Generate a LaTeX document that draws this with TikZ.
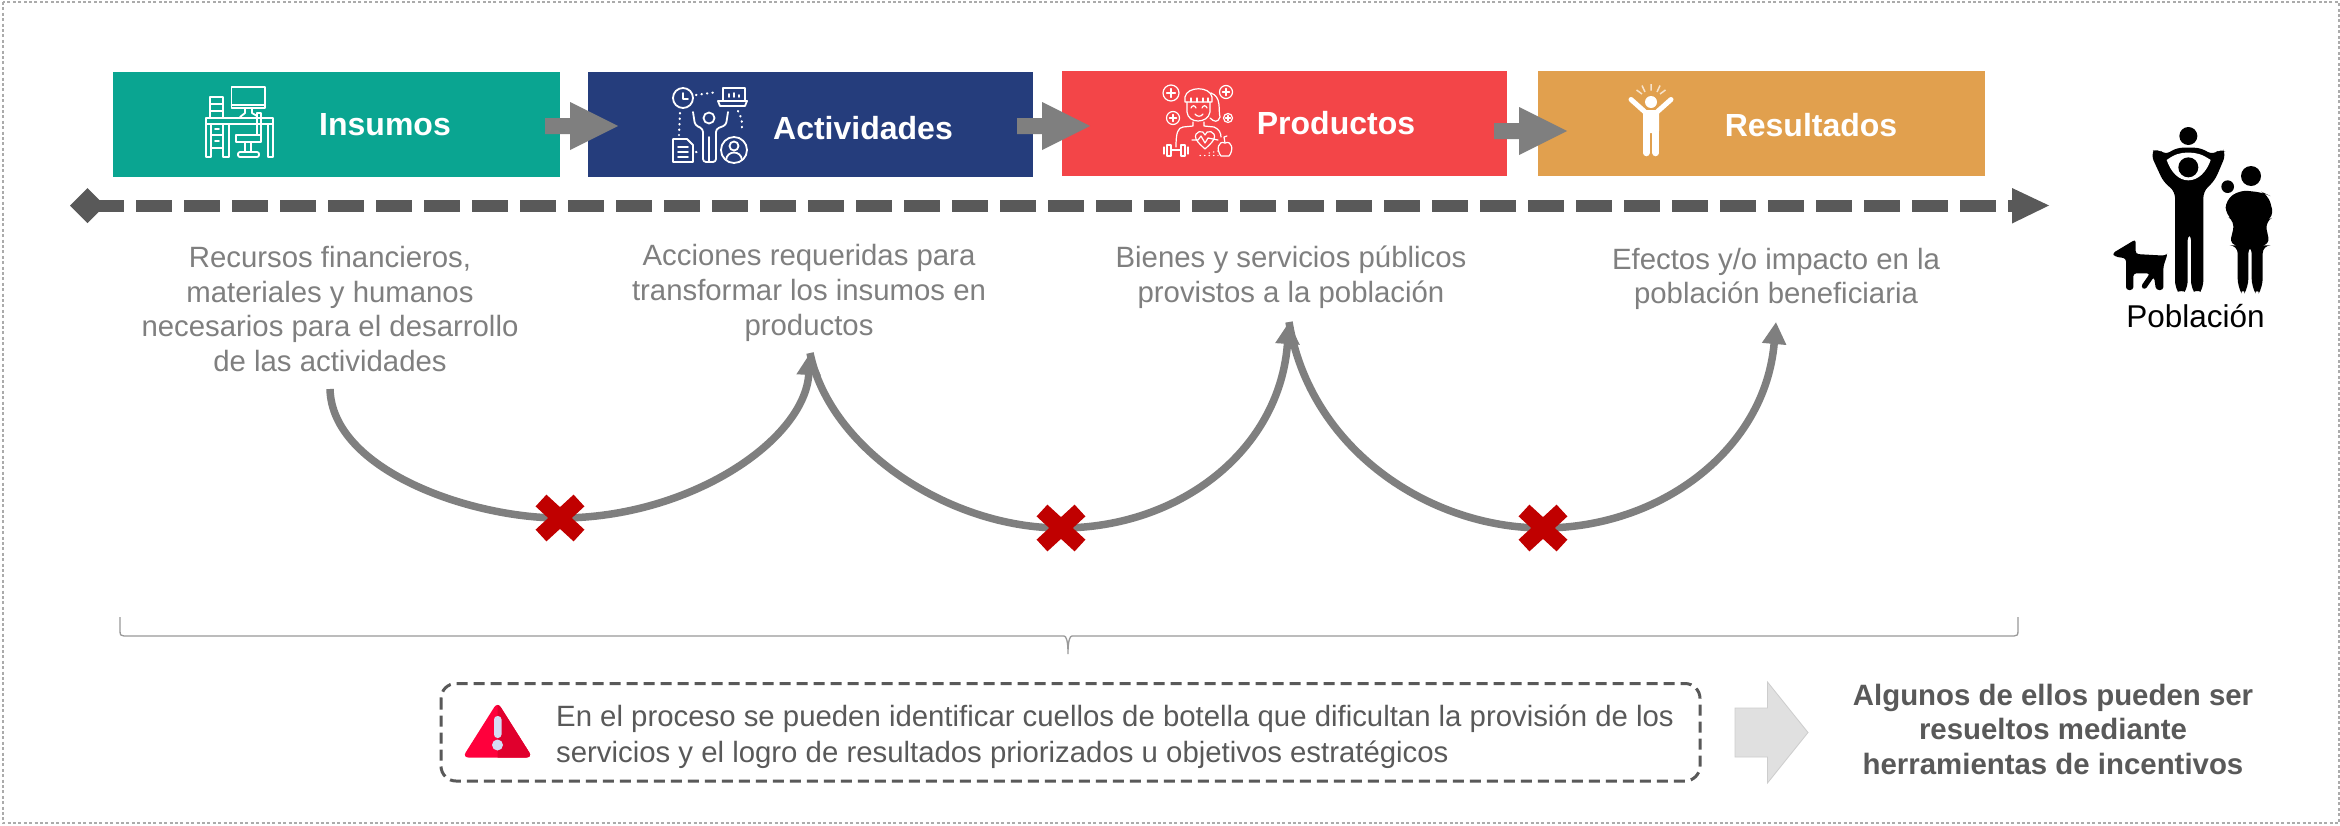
\documentclass[tikz,border=0pt]{standalone}
\usepackage{fontspec}
\setmainfont{Liberation Sans}
\usetikzlibrary{arrows.meta}
\definecolor{teal1}{HTML}{0AA591}
\definecolor{navy1}{HTML}{253D7C}
\definecolor{red1}{HTML}{F34548}
\definecolor{gold1}{HTML}{E1A04E}
\definecolor{gray1}{HTML}{7F7F7F}
\definecolor{gray2}{HTML}{595959}
\definecolor{xred}{HTML}{C00000}
\definecolor{warnA}{HTML}{FF003C}
\definecolor{warnB}{HTML}{E0002D}
\definecolor{warnC}{HTML}{D5DCF5}
\definecolor{lightarrow}{HTML}{E0E0E0}
\definecolor{lightedge}{HTML}{CDCDCD}
\definecolor{bracegray}{HTML}{999999}
\tikzset{
 stagelabel/.style={text=white,font=\fontsize{32}{36}\selectfont\bfseries,inner sep=0},
 desc/.style={text=gray1,align=center,font=\fontsize{29.35}{34.8}\selectfont,inner sep=0},
 blockarrow/.style={fill=gray1,draw=none},
 loopcurve/.style={draw=gray1,line width=7.5pt},
 xmark/.style={draw=xred,line width=16pt},
 icon/.style={draw=white,line width=1.8pt,line join=round,line cap=round},
 iconthin/.style={draw=white,line width=1.2pt,line join=round,line cap=round},
 icond/.style={draw=white,line width=2.2pt,line cap=round,dash pattern=on 0.5pt off 5pt},
}
\newcommand{\stagerect}[6]{\path[fill=#6] (#2,#3) rectangle (#4,#5) node[pos=.5,inner sep=0] (#1) {};}
\begin{document}
\begin{tikzpicture}[x=1pt,y=-1pt]
\useasboundingbox (0,0) rectangle (2340,825);
\fill[white] (0,0) rectangle (2340,825);
\draw[draw=black!33,line width=2pt,dash pattern=on 3pt off 2.4pt] (2.5,2) rectangle (2339,823);
% boxes
\stagerect{b1}{113}{72}{560}{177}{teal1}
\stagerect{b2}{588}{72}{1033}{177}{navy1}
\stagerect{b3}{1062}{71}{1507}{176}{red1}
\stagerect{b4}{1538}{71}{1985}{176}{gold1}
\node[stagelabel] (l1) at (385,125) {Insumos};
\node[stagelabel] (l2) at (863,128) {Actividades};
\node[stagelabel] (l3) at (1336,123) {Productos};
\node[stagelabel] (l4) at (1811,125) {Resultados};
% block arrows
\foreach \a/\c in {545/126,1017/126,1494/131}{
 \fill[blockarrow] (\a,\c-8) -- (\a+25,\c-8) -- (\a+25,\c-24) -- (\a+73,\c) -- (\a+25,\c+24) -- (\a+25,\c+8) -- (\a,\c+8) -- cycle;
}
% timeline
\coordinate (ts) at (88,205.5);
\coordinate (te) at (2015,205.5);
\draw[gray2,line width=12pt,dash pattern=on 36pt off 12pt] (ts) -- (te);
\fill[gray2] (70,205.5) -- (87.5,188) -- (105,205.5) -- (87.5,223) -- cycle;
\fill[gray2] (2012,188) -- (2049,205.5) -- (2012,223.5) -- cycle;
% descriptions
\node[desc] (d1) at (330,309) {Recursos financieros,\\materiales y humanos\\necesarios para el desarrollo\\de las actividades};
\node[desc] (d2) at (809,293) {Acciones requeridas para\\transformar los insumos en\\productos};
\node[desc] (d3) at (1291,277) {Bienes y servicios públicos\\provistos a la población};
\node[desc] (d4) at (1776,279) {Efectos y/o impacto en la\\población beneficiaria};
% curves
\coordinate (c0) at (330,389);
\coordinate (c1) at (810,353);
\coordinate (c2) at (1289,322);
\coordinate (c3) at (1776,322);
\coordinate (x1) at (560,518);
\coordinate (x2) at (1061,528);
\coordinate (x3) at (1543,528);
\draw[loopcurve,-{Triangle[length=22pt,width=23pt]}] (c0) .. controls (332,470) and (470,518) .. (x1) .. controls (690,518) and (805,440) .. (c1);
\draw[loopcurve,-{Triangle[length=22pt,width=23pt]}] (c1) .. controls (830,450) and (950,528) .. (x2) .. controls (1180,528) and (1280,450) .. (c2);
\draw[loopcurve,-{Triangle[length=22pt,width=23pt]}] (c2) .. controls (1310,450) and (1430,528) .. (x3) .. controls (1660,528) and (1765,450) .. (c3);
\foreach \p in {x1,x2,x3}{
 \draw[xmark] ([shift={(-19,-17.5)}]\p) -- ([shift={(19,17.5)}]\p);
 \draw[xmark] ([shift={(-19,17.5)}]\p) -- ([shift={(19,-17.5)}]\p);
}
% brace
\coordinate (bl) at (120,617);
\coordinate (br) at (2018,617);
\coordinate (bt) at (1068,654);
\draw[bracegray,line width=1.3pt] (bl) -- (120,631) .. controls (120,635) and (121,636) .. (124,636) -- (1064,636) .. controls (1066,636) and (1068,640) .. (bt) .. controls (1068,640) and (1070,636) .. (1072,636) -- (2014,636) .. controls (2017,636) and (2018,635) .. (2018,631) -- (br);
% dashed box
\draw[gray2,line width=3pt,dash pattern=on 11pt off 6pt,rounded corners=15pt] (441,683.5) rectangle (1700,781);
\node[anchor=west,text=gray2,align=left,font=\fontsize{29.35}{36}\selectfont,inner sep=0] (note) at (556,736.5) {En el proceso se pueden identificar cuellos de botella que dificultan la provisión de los\\servicios y el logro de resultados priorizados u objetivos estratégicos};
% warning icon
\fill[warnA,rounded corners=6pt] (497.5,702) -- (532.5,757.5) -- (462.5,757.5) -- cycle;
\begin{scope}
\clip (497.5,695) rectangle (540,760);
\fill[warnB,rounded corners=6pt] (497.5,702) -- (532.5,757.5) -- (462.5,757.5) -- cycle;
\end{scope}
\fill[warnC,rounded corners=3.5pt] (494,716) rectangle (501.5,738);
\fill[warnC] (497.5,745) circle (5.5);
% right arrow
\fill[fill=lightarrow,draw=lightedge,line width=.8pt] (1735,708) -- (1767.5,708) -- (1767.5,682) -- (1808,732.5) -- (1767.5,783) -- (1767.5,757) -- (1735,757) -- cycle;
\node[text=gray2,align=center,font=\fontsize{29.4}{34.5}\selectfont\bfseries,inner sep=0] (res) at (2053,729) {Algunos de ellos pueden ser\\resueltos mediante\\herramientas de incentivos};
% people
\begin{scope}[shift={(2050,110)},scale=1/3]
 \fill[black] (415,78) circle (27);
 \fill[black,rounded corners=6pt] (303,135) to[bend left=20] (325,116) -- (345,135) -- (380,113) -- (450,113) -- (490,135) -- (510,116) to[bend left=20] (527,135) -- (495,210) -- (460,245) -- (460,530) to[bend left=60] (423,530) -- (423,372) -- (413,372) -- (413,530) to[bend left=60] (375,530) -- (375,245) -- (340,215) -- cycle;
 \fill[white] (350,150) .. controls (375,132) and (390,128) .. (415,128) .. controls (440,128) and (455,132) .. (482,150) .. controls (470,185) and (445,211) .. (415,211) .. controls (385,211) and (362,185) .. (350,150) -- cycle;
 \fill[black] (415,172) circle (30);
 \fill[black] (603,198) circle (30);
 \fill[black] (533,230) circle (19);
 \fill[black,rounded corners=8pt] (527,270) -- (570,240) -- (640,248) -- (655,255) -- (672,320) -- (645,335) -- (660,406) -- (638,406) -- (638,530) to[bend left=60] (605,530) -- (605,406) -- (595,406) -- (595,530) to[bend left=60] (563,530) -- (563,406) -- (538,406) -- (555,335) -- (527,315) -- cycle;
 \fill[black,rounded corners=3pt] (187,430) -- (257,388) -- (257,432) -- (345,437) -- (353,430) -- (340,470) -- (340,540) -- (318,540) -- (312,500) -- (285,540) -- (272,530) -- (300,490) -- (250,490) -- (250,540) -- (228,540) -- (228,445) -- (195,440) -- cycle;
\end{scope}
\node[text=black,font=\fontsize{31.5}{36}\selectfont,inner sep=0] (pob) at (2195.5,316) {Población};
% Icon: desk
\draw[icon] (231.5,87) rectangle (265,108); \draw[icon] (231.5,105) -- (265,105);
\draw[icon] (245,108) -- (245,113) -- (240,117); \draw[icon] (252,108) -- (252,113) -- (257,116);
\draw[icon] (210,97) rectangle (223,118); \draw[icon] (210,104) -- (223,104); \draw[icon] (210,111) -- (223,111);
\draw[icon] (206,118) rectangle (273,124);
\draw[icon] (206,124) -- (206,157) -- (211,157) -- (211,124);
\draw[icon] (268,124) -- (268,157) -- (273,157) -- (273,124);
\draw[icon] (211,135) -- (223,135); \draw[icon] (211,148) -- (223,148);
\draw[icon] (223,124) -- (223,157) -- (229,157) -- (229,124);
\draw[icon] (215,129) -- (219,129); \draw[icon] (215,141) -- (219,141);
\draw[icon] (236,135) rectangle (261,142); \draw[icon] (257,113) rectangle (261,135);
\draw[icon] (245,142) -- (245,152); \draw[icon] (251,142) -- (251,152); \draw[icon,rounded corners=2pt] (238,152) rectangle (259,157);
% Icon: person with tasks
\draw[icon] (683,98) circle (10); \draw[icon] (683,93) -- (683,99) -- (688,99);
\draw[icon] (723,88) rectangle (745,101); \draw[icon] (718,101) -- (747,101) -- (745,106) -- (720,106) -- cycle;
\draw[icon] (729,97) -- (729,94) (734,97) -- (734,93) (739,97) -- (739,95);
\draw[icond] (696,95) -- (717,92);
\draw[icond] (680,113) -- (679,135);
\draw[icond] (738,111) .. controls (742,118) and (743,125) .. (741,132);
\draw[icon] (709,118) circle (5.5);
\draw[icon,rounded corners=3pt] (693,112) -- (695,125) -- (703,129) -- (703,162) -- (716,162) -- (716,129) -- (726,125) -- (728,112);
\draw[icon] (709,137) -- (709,162);
\draw[icon] (673,139) -- (687,139) -- (693,145) -- (693,162) -- (673,162) -- cycle;
\draw[icon] (678,147) -- (688,147); \draw[icon] (678,152) -- (688,152); \draw[icon] (678,157) -- (688,157);
\draw[icond] (696,152) -- (701,153);
\draw[icon] (734,150) circle (13); \draw[icon] (734,146) circle (4.5);
\draw[icon] (726,160) .. controls (727,150) and (741,150) .. (742,160);
% Icon: health
\foreach \cx/\cy/\r in {1171/93/8,1226/92/6.5,1173/118/6.5,1228/118/4.5}{
 \draw[iconthin] (\cx,\cy) circle (\r);
 \draw[iconthin] (\cx-\r*.55,\cy) -- (\cx+\r*.55,\cy) (\cx,\cy-\r*.55) -- (\cx,\cy+\r*.55);
}
\draw[iconthin] (1185,102) -- (1185,97) .. controls (1187,86) and (1210,86) .. (1212,97) -- (1212,102) -- cycle;
\draw[iconthin] (1191,98) -- (1191,102) (1197,98) -- (1197,102) (1203,98) -- (1203,102) (1208,98) -- (1208,102);
\draw[iconthin] (1187,102) -- (1187,112) .. controls (1188,124) and (1208,124) .. (1210,112) -- (1210,102);
\draw[iconthin] (1211,93) .. controls (1222,97) and (1218,110) .. (1220,117) .. controls (1218,123) and (1214,122) .. (1210,118);
\draw[iconthin] (1191,108) .. controls (1192,105) and (1195,105) .. (1196,108);
\draw[iconthin] (1202,108) .. controls (1203,105) and (1206,105) .. (1207,108);
\draw[iconthin] (1195,114) .. controls (1197,117) and (1201,117) .. (1203,114);
\draw[iconthin] (1193,122) -- (1193,126) -- (1183,127) .. controls (1178,128) and (1176,132) .. (1176,147);
\draw[iconthin] (1204,122) -- (1204,126) -- (1214,127) .. controls (1219,129) and (1221,133) .. (1221,137);
\draw[iconthin] (1196,139) .. controls (1193,131) and (1204,129) .. (1205,135) .. controls (1206,129) and (1217,131) .. (1214,139) .. controls (1212,143) and (1208,146) .. (1205,149) .. controls (1202,146) and (1198,143) .. (1196,139) -- cycle;
\draw[iconthin] (1192,140) -- (1198,140) -- (1201,136) -- (1205,143) -- (1208,138) -- (1218,140);
\draw[iconthin] (1164,147) -- (1164,154) (1167,145) rectangle (1171,156) (1171,150) -- (1181,150) (1181,145) rectangle (1185,156) (1188,147) -- (1188,154);
\draw[iconthin] (1225,143) .. controls (1218,140) and (1216,150) .. (1221,156) -- (1229,156) .. controls (1234,150) and (1232,140) .. (1225,143) -- cycle;
\draw[iconthin] (1225,143) -- (1224,137) -- (1227,136);
\draw[iconthin,dash pattern=on 0.5pt off 4pt] (1200,155.5) -- (1218,155.5) (1209,153) -- (1218,151);
% Icon: raised arms
\fill[white] (1651,102) circle (6);
\draw[white,line width=5pt,line cap=round] (1631,99.5) -- (1645,112) (1671,99.5) -- (1657,112);
\fill[white,rounded corners=2pt] (1643,110) -- (1659,110) -- (1659,133) -- (1643,133) -- cycle;
\draw[white,line width=6.5pt,line cap=round] (1646.3,125) -- (1646.3,153) (1655.7,125) -- (1655.7,153);
\draw[white!70!gold1,line width=1.5pt] (1651,84) -- (1651,90.5) (1642,85.5) -- (1645,92) (1660,85.5) -- (1657,92) (1636.5,90) -- (1642,94) (1665.5,90) -- (1660,94);
\end{tikzpicture}
\end{document}
